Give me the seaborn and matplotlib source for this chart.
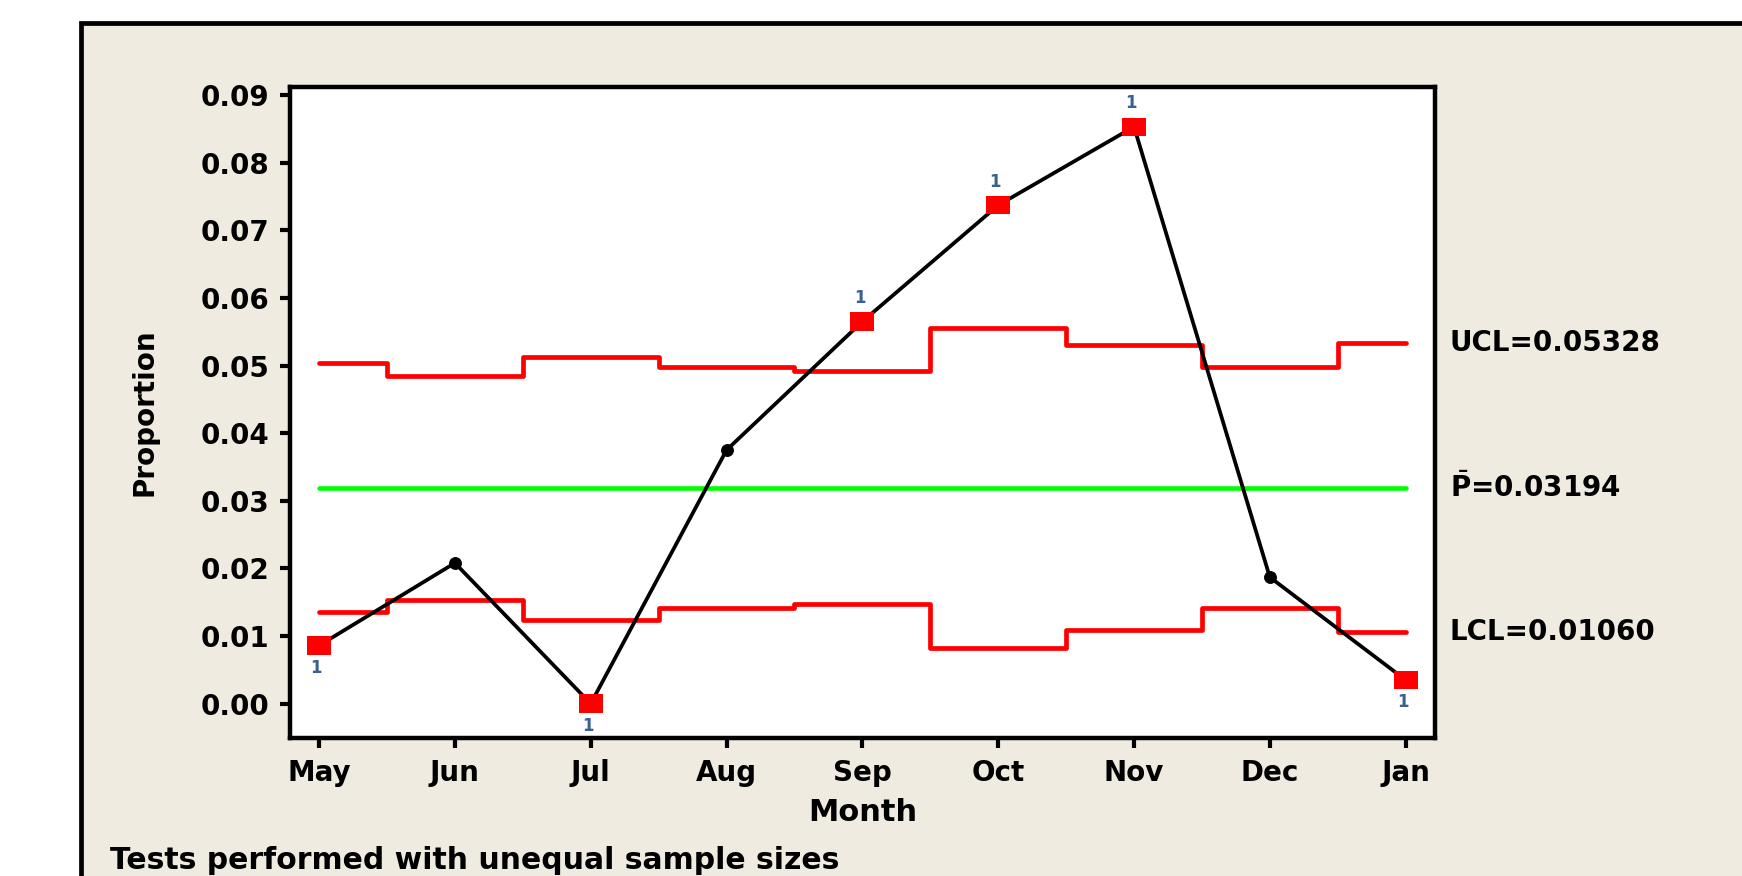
import numpy as np
import pandas as pd
import matplotlib
matplotlib.use("Agg")
import matplotlib.pyplot as plt
import matplotlib.transforms as mtransforms
from matplotlib.patches import Rectangle
import seaborn as sns

# ---------------- data ----------------
months = ["May", "Jun", "Jul", "Aug", "Sep", "Oct", "Nov", "Dec", "Jan"]
proportion = [0.0086, 0.0208, 0.0000, 0.0375, 0.0565, 0.0737, 0.0853, 0.0187, 0.0035]
ucl = [0.0504, 0.0485, 0.0513, 0.0498, 0.0492, 0.0555, 0.0530, 0.0498, 0.05328]
lcl = [0.0135, 0.0153, 0.0124, 0.0141, 0.0147, 0.0083, 0.0109, 0.0141, 0.01060]
center_line = 0.03194
failed_test = ["1", "", "1", "", "1", "1", "1", "", "1"]
y_ticks = [0.00, 0.01, 0.02, 0.03, 0.04, 0.05, 0.06, 0.07, 0.08, 0.09]
y_tick_labels = ["0.00", "0.01", "0.02", "0.03", "0.04", "0.05", "0.06", "0.07", "0.08", "0.09"]
limit_labels = ["UCL=0.05328", r"$\bar{\mathbf{P}}$=0.03194", "LCL=0.01060"]
x_label = "Month"
y_label = "Proportion"
note = "Tests performed with unequal sample sizes"

idx = np.arange(1, len(months) + 1)
df = pd.DataFrame({"idx": idx, "Month": months, "Proportion": proportion,
                   "UCL": ucl, "LCL": lcl, "CL": [center_line] * len(months),
                   "Test": failed_test})
df["Out"] = df["Test"] != ""

# ---------------- style ----------------
sns.set_theme(style="ticks")
plt.rcParams["font.family"] = ["DejaVu Sans"]
plt.rcParams["mathtext.fontset"] = "dejavusans"
BEIGE = "#EFEBE0"

fig = plt.figure(figsize=(17.42, 8.76), dpi=100, facecolor="white")
frame = Rectangle((80.5 / 1742, -0.2), 1.3, 1.2 - 22.5 / 876,
                  transform=fig.transFigure, facecolor=BEIGE, edgecolor="black",
                  linewidth=3.4, zorder=-10)
fig.add_artist(frame)

ax = fig.add_axes([290 / 1742, 1 - 737.7 / 876, (1435 - 290) / 1742, (737.7 - 87) / 876])
ax.set_facecolor("white")

# control limits
sns.lineplot(data=df, x="idx", y="UCL", drawstyle="steps-mid", color="#FF0000",
             linewidth=3.4, ax=ax, zorder=2)
sns.lineplot(data=df, x="idx", y="LCL", drawstyle="steps-mid", color="#FF0000",
             linewidth=3.4, ax=ax, zorder=2)
sns.lineplot(data=df, x="idx", y="CL", color="#00FF00", linewidth=3.3, ax=ax, zorder=2)

# data
sns.lineplot(data=df, x="idx", y="Proportion", color="black", linewidth=2.7,
             marker="o", markersize=8.5, markeredgecolor="black", ax=ax, zorder=3)
rect_marker = [(-1.3, -1), (1.3, -1), (1.3, 1), (-1.3, 1), (-1.3, -1)]
sns.scatterplot(data=df[df["Out"]], x="idx", y="Proportion", marker=rect_marker,
                s=300, color="#FF0000", edgecolor="none", linewidth=0, ax=ax,
                zorder=4, legend=False)

# test labels
for _, r in df[df["Out"]].iterrows():
    above = r["Proportion"] > r["UCL"]
    ax.annotate(r["Test"], xy=(r["idx"], r["Proportion"]),
                xytext=(-2, 17 if above else -16), textcoords="offset points",
                ha="center", va="center", fontsize=12, fontweight="bold",
                color="#3a5f92")

# limit labels
trans = mtransforms.blended_transform_factory(ax.transAxes, ax.transData)
for lab, val in zip(limit_labels, [ucl[-1], center_line, lcl[-1]]):
    ax.text(1.013, val, lab, transform=trans, ha="left", va="center",
            fontsize=20, fontweight="bold", color="black", clip_on=False)

# axes
ax.set_xlim(0.786, 9.216)
ax.set_ylim(-0.00503, 0.09118)
ax.set_xticks(idx)
ax.set_xticklabels(months, fontweight="bold")
ax.set_yticks(y_ticks)
ax.set_yticklabels(y_tick_labels, fontweight="bold")
ax.tick_params(axis="both", direction="out", length=7, width=3, labelsize=20,
               colors="black")
ax.tick_params(axis="x", pad=8)
ax.tick_params(axis="y", pad=8)
for sp in ax.spines.values():
    sp.set_visible(True)
    sp.set_linewidth(3.2)
    sp.set_color("black")
ax.set_xlabel(x_label, fontsize=22, fontweight="bold", labelpad=8, color="black")
ax.set_ylabel(y_label, fontsize=20, fontweight="bold", labelpad=30, color="black")
ax.grid(False)

fig.text(110 / 1742, 1 - 869 / 876, note, ha="left", va="baseline",
         fontsize=21.5, fontweight="bold", color="black")

fig.savefig("out.png", dpi=100, facecolor="white")
